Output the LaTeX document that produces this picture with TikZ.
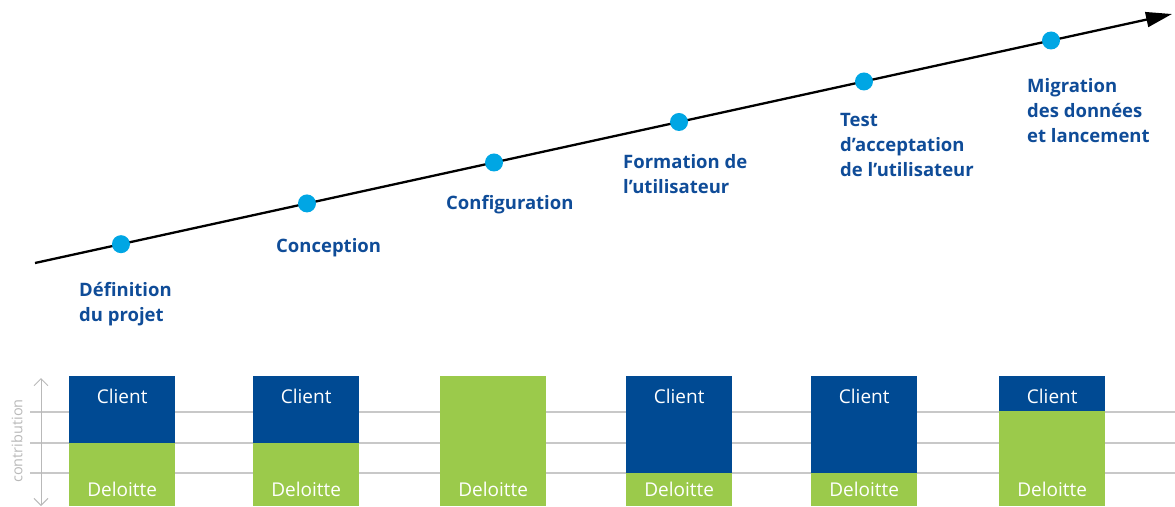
\documentclass[tikz,border=0pt]{standalone}
\usepackage{fontspec}
\setmainfont{Open Sans}
\usetikzlibrary{arrows.meta}
\definecolor{dblue}{RGB}{0,74,147}
\definecolor{lgreen}{RGB}{155,202,75}
\definecolor{txtblue}{RGB}{15,76,152}
\definecolor{dotcyan}{RGB}{0,166,228}
\definecolor{gridgray}{RGB}{200,200,200}
\definecolor{axgray}{RGB}{185,185,185}
\tikzset{
  timeline/.style={line width=2.3pt, -{Triangle[length=26pt,width=15pt]}},
  dot/.style={circle, fill=dotcyan, inner sep=0pt, minimum size=18pt},
  phase/.style={anchor=base west, inner sep=0pt, align=left, text=txtblue,
    font=\fontsize{18.5}{25}\selectfont\bfseries},
  gridline/.style={draw=gridgray, line width=1.2pt},
  clientbar/.style={fill=dblue, inner sep=0pt, minimum width=106pt, anchor=north west},
  delbar/.style={fill=lgreen, inner sep=0pt, minimum width=106pt, anchor=south west},
  bartext/.style={text=white, inner sep=0pt, anchor=base, font=\fontsize{19}{22}\selectfont},
  axis/.style={draw=axgray, line width=1pt, {Straight Barb[length=7pt,width=14pt]}-{Straight Barb[length=7pt,width=14pt]}},
}
\begin{document}
\begin{tikzpicture}[x=1pt,y=-1pt]
\useasboundingbox (0,0) rectangle (1175,506);
% grid lines
\coordinate (g1s) at (30,412); \coordinate (g1e) at (1175,412);
\coordinate (g2s) at (30,443); \coordinate (g2e) at (1175,443);
\coordinate (g3s) at (30,473); \coordinate (g3e) at (1175,473);
\draw[gridline] (g1s) -- (g1e);
\draw[gridline] (g2s) -- (g2e);
\draw[gridline] (g3s) -- (g3e);
% contribution axis
\coordinate (axt) at (41,378); \coordinate (axb) at (41,506);
\draw[axis] (axt) -- (axb);
\node[rotate=90, text=axgray, inner sep=0pt, font=\fontsize{14.5}{16}\selectfont] (axlab) at (17,441) {contribution};
% timeline
\coordinate (ts) at (35,263);
\coordinate (te) at (1172,14);
\draw[timeline] (ts) -- (te);
\path (ts) -- (te)
  node[dot, pos=0.0756] (d1) {}
  node[dot, pos=0.2392] (d2) {}
  node[dot, pos=0.4037] (d3) {}
  node[dot, pos=0.5664] (d4) {}
  node[dot, pos=0.7291] (d5) {}
  node[dot, pos=0.8936] (d6) {};
% phase labels (anchor = baseline of last line)
\node[phase] (l1) at (79,321) {Définition\\du projet};
\node[phase] (l2) at (276,252) {Conception};
\node[phase] (l3) at (446,209) {Configuration};
\node[phase] (l4) at (623,193) {Formation de\\l’utilisateur};
\node[phase] (l5) at (840,176) {Test\\d’acceptation\\de l’utilisateur};
\node[phase] (l6) at (1027,142) {Migration\\des données\\et lancement};
% bars
\node[clientbar, minimum height=67pt] (c1) at (69,376) {};
\node[delbar, minimum height=63pt] (e1) at (69,506) {};
\node[clientbar, minimum height=67pt] (c2) at (253,376) {};
\node[delbar, minimum height=63pt] (e2) at (253,506) {};
\node[delbar, minimum height=130pt] (e3) at (440,506) {};
\node[clientbar, minimum height=97pt] (c4) at (626,376) {};
\node[delbar, minimum height=33pt] (e4) at (626,506) {};
\node[clientbar, minimum height=97pt] (c5) at (811,376) {};
\node[delbar, minimum height=33pt] (e5) at (811,506) {};
\node[clientbar, minimum height=35pt] (c6) at (999,376) {};
\node[delbar, minimum height=95pt] (e6) at (999,506) {};
% bar texts
\foreach \b in {c1,c2,c4,c5,c6} {
  \node[bartext] at ([yshift=-27pt]\b.north) {Client};
}
\foreach \b in {e1,e2,e3,e4,e5,e6} {
  \node[bartext] at ([yshift=10pt]\b.south) {Deloitte};
}
\end{tikzpicture}
\end{document}
